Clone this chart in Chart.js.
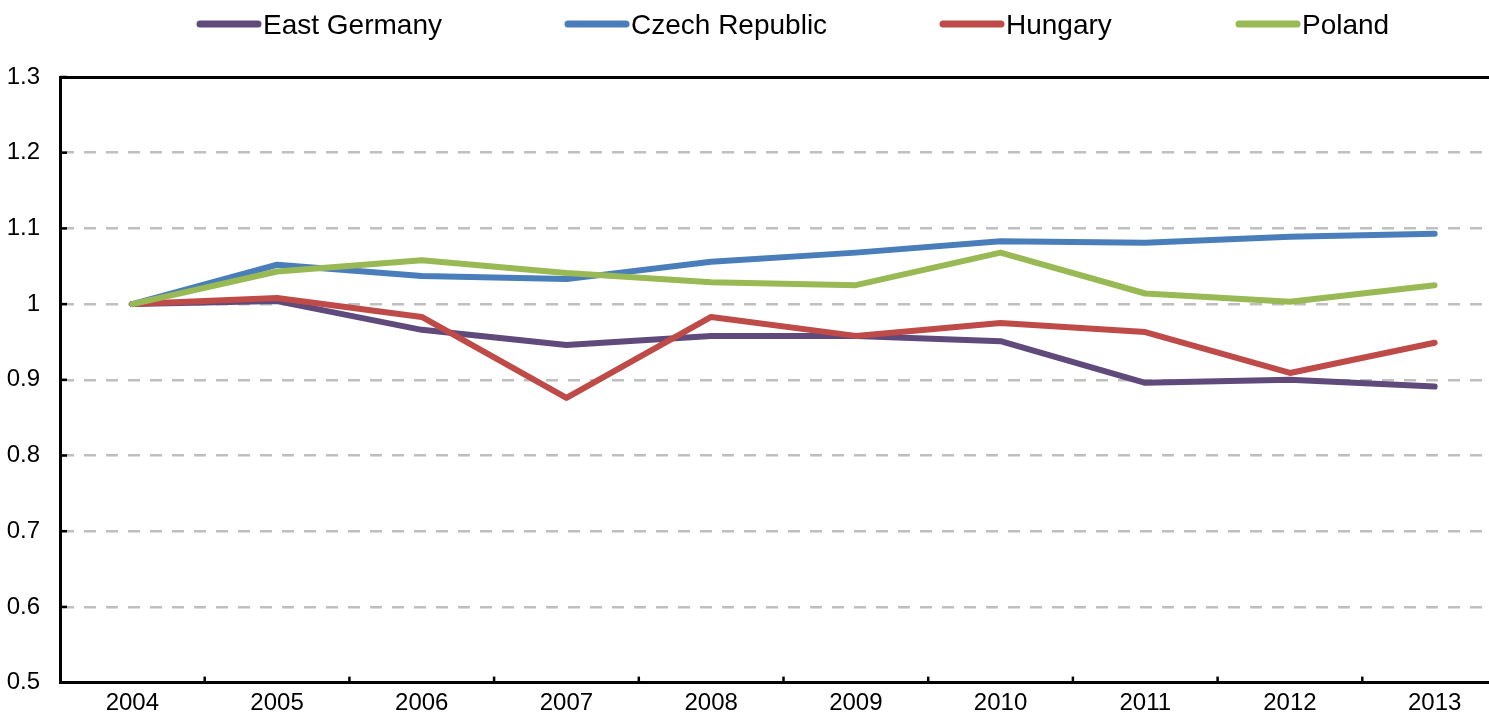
<!DOCTYPE html>
<html><head><meta charset="utf-8">
<script src="https://cdn.jsdelivr.net/npm/chart.js@4.4.1/dist/chart.umd.min.js"></script>
<style>
html,body{margin:0;padding:0;background:#fff;overflow:hidden;width:1489px;height:717px}
#wrap{position:relative;width:1510px;height:717px}
</style></head>
<body><div id="wrap"><canvas id="c"></canvas></div>
<script>
const years = ['2004','2005','2006','2007','2008','2009','2010','2011','2012','2013'];
const eastGermany = [1.000, 1.004, 0.966, 0.946, 0.958, 0.958, 0.951, 0.896, 0.900, 0.891];
const czechRepublic = [1.000, 1.052, 1.037, 1.033, 1.056, 1.068, 1.083, 1.081, 1.089, 1.093];
const hungary = [1.000, 1.008, 0.983, 0.876, 0.983, 0.958, 0.975, 0.963, 0.909, 0.949];
const poland = [1.000, 1.043, 1.058, 1.041, 1.029, 1.025, 1.068, 1.014, 1.003, 1.025];
const yTickLabels = ['0.5','0.6','0.7','0.8','0.9','1','1.1','1.2','1.3'];
const seriesNames = ['East Germany','Czech Republic','Hungary','Poland'];
const seriesColors = ['#604A7B','#4A7EBB','#BE4B48','#98B954'];

const FONT = '"Liberation Sans Narrow", "Arial Narrow", "Liberation Sans", Arial, sans-serif';
const seriesData = [eastGermany, czechRepublic, hungary, poland];
const legendStarts = [197, 565, 940, 1236];

const legendPlugin = {
  id: 'customLegend',
  afterDraw(chart) {
    const ctx = chart.ctx;
    ctx.save();
    ctx.font = '28px ' + FONT;
    chart.data.datasets.forEach((ds, i) => {
      const x = legendStarts[i];
      ctx.strokeStyle = ds.borderColor;
      ctx.lineWidth = 7;
      ctx.lineCap = 'round';
      ctx.beginPath();
      ctx.moveTo(x + 3, 24);
      ctx.lineTo(x + 61, 24);
      ctx.stroke();
      ctx.fillStyle = '#000';
      ctx.textBaseline = 'alphabetic';
      ctx.textAlign = 'left';
      ctx.fillText(ds.label, x + 66, 33.5);
    });
    ctx.restore();
  }
};

const innerTicksPlugin = {
  id: 'innerTicks',
  afterDatasetsDraw(chart) {
    const ctx = chart.ctx;
    const ys = chart.scales.y, xs = chart.scales.x;
    const area = chart.chartArea;
    ctx.save();
    ctx.strokeStyle = '#000';
    ctx.lineWidth = 2.5;
    ys.ticks.forEach(t => {
      const y = ys.getPixelForValue(t.value);
      ctx.beginPath();
      ctx.moveTo(area.left, y);
      ctx.lineTo(area.left + 7, y);
      ctx.stroke();
    });
    for (let i = 1; i < years.length; i++) {
      const bx = (xs.getPixelForValue(i - 1) + xs.getPixelForValue(i)) / 2;
      ctx.beginPath();
      ctx.moveTo(bx, area.bottom);
      ctx.lineTo(bx, area.bottom - 6);
      ctx.stroke();
    }
    ctx.restore();
  }
};

new Chart(document.getElementById('c'), {
  type: 'line',
  data: {
    labels: years,
    datasets: seriesNames.map((name, i) => ({
      label: name,
      data: seriesData[i],
      borderColor: seriesColors[i],
      backgroundColor: seriesColors[i],
      borderWidth: 6,
      pointRadius: 0,
      pointHoverRadius: 0,
      tension: 0,
      borderCapStyle: 'round',
      borderJoinStyle: 'round',
      order: seriesNames.length - i
    }))
  },
  options: {
    responsive: true,
    maintainAspectRatio: false,
    animation: false,
    layout: { padding: { top: 77, right: 3, left: 0, bottom: 0 } },
    plugins: { legend: { display: false }, tooltip: { enabled: false } },
    scales: {
      x: {
        type: 'category',
        offset: true,
        grid: { display: false, drawTicks: false },
        border: { display: true, color: '#000', width: 3 },
        ticks: { color: '#000', font: { family: FONT, size: 24 }, padding: 6, maxRotation: 0, autoSkip: false },
        afterFit(scale) { scale.height = 34; }
      },
      x2: {
        type: 'category',
        labels: years,
        position: 'top',
        offset: true,
        grid: { display: false, drawTicks: false },
        border: { display: true, color: '#000', width: 3 },
        ticks: { display: false },
        afterFit(scale) { scale.height = 0; }
      },
      y: {
        min: 0.5,
        max: 1.3,
        grid: {
          drawTicks: false,
          color: (c) => (c.index === 0 || c.index === yTickLabels.length - 1) ? 'rgba(0,0,0,0)' : '#BFBFBF',
          lineWidth: 2.5
        },
        border: { display: true, color: '#000', width: 3, dash: [12, 10] },
        ticks: {
          stepSize: 0.1,
          color: '#000',
          font: { family: FONT, size: 24 },
          padding: 20,
          callback: (v, i) => yTickLabels[i]
        },
        afterFit(scale) { scale.width = 60; }
      }
    }
  },
  plugins: [legendPlugin, innerTicksPlugin]
});
</script>
</body></html>
